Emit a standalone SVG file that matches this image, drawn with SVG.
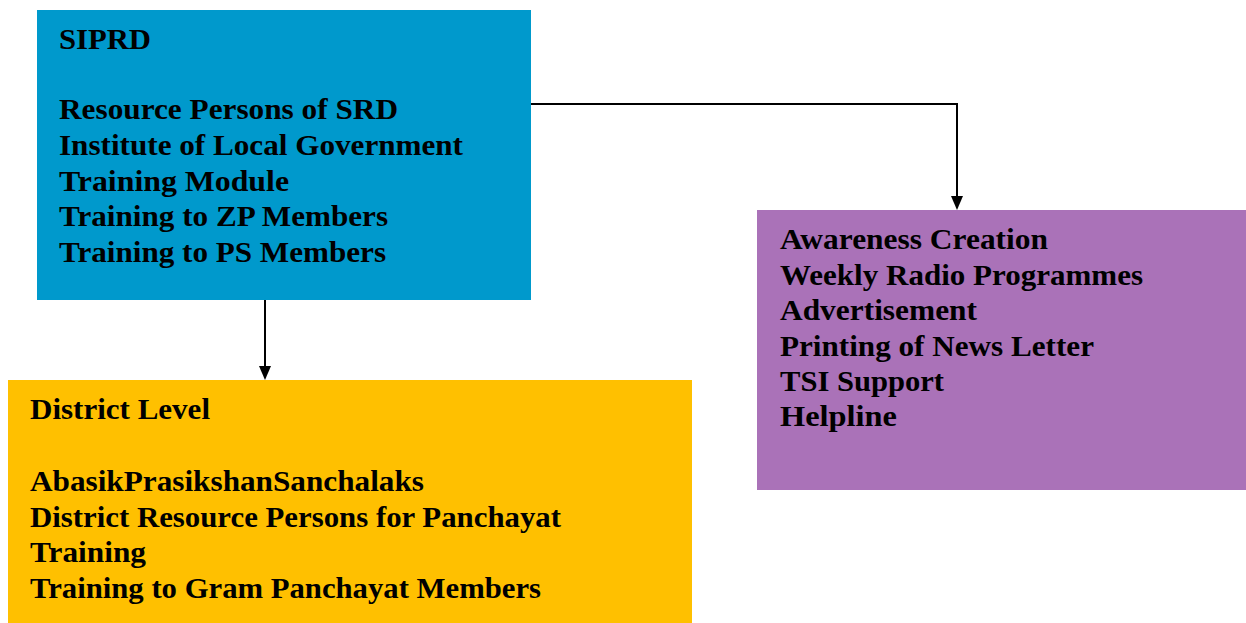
<svg xmlns="http://www.w3.org/2000/svg" width="1246" height="623" viewBox="0 0 1246 623">
<style>
text{font-family:"Liberation Serif","Times New Roman",serif;font-weight:bold;font-size:29px;fill:#000}
.conn{fill:none;stroke:#000;stroke-width:2}
</style>
<rect width="1246" height="623" fill="#fff"/>
<g id="siprd">
<rect x="37" y="10" width="494" height="290" fill="#0099CC"/>
<text x="59" y="49" textLength="92" lengthAdjust="spacingAndGlyphs">SIPRD</text>
<text x="59" y="119" textLength="339" lengthAdjust="spacingAndGlyphs">Resource Persons of SRD</text>
<text x="59" y="155" textLength="404" lengthAdjust="spacingAndGlyphs">Institute of Local Government</text>
<text x="59" y="191" textLength="230" lengthAdjust="spacingAndGlyphs">Training Module</text>
<text x="59" y="226" textLength="329" lengthAdjust="spacingAndGlyphs">Training to ZP Members</text>
<text x="59" y="262" textLength="327" lengthAdjust="spacingAndGlyphs">Training to PS Members</text>
</g>
<g id="district">
<rect x="8" y="380" width="684" height="243" fill="#FFC000"/>
<text x="30" y="419" textLength="180" lengthAdjust="spacingAndGlyphs">District Level</text>
<text x="30" y="491" textLength="394" lengthAdjust="spacingAndGlyphs">AbasikPrasikshanSanchalaks</text>
<text x="30" y="527" textLength="531" lengthAdjust="spacingAndGlyphs">District Resource Persons for Panchayat</text>
<text x="30" y="562" textLength="116" lengthAdjust="spacingAndGlyphs">Training</text>
<text x="30" y="598" textLength="511" lengthAdjust="spacingAndGlyphs">Training to Gram Panchayat Members</text>
</g>
<g id="awareness">
<rect x="757" y="210" width="489" height="280" fill="#AA72B8"/>
<text x="780" y="249" textLength="268" lengthAdjust="spacingAndGlyphs">Awareness Creation</text>
<text x="780" y="285" textLength="363" lengthAdjust="spacingAndGlyphs">Weekly Radio Programmes</text>
<text x="780" y="320" textLength="197" lengthAdjust="spacingAndGlyphs">Advertisement</text>
<text x="780" y="356" textLength="314" lengthAdjust="spacingAndGlyphs">Printing of News Letter</text>
<text x="780" y="391" textLength="164" lengthAdjust="spacingAndGlyphs">TSI Support</text>
<text x="780" y="426" textLength="117" lengthAdjust="spacingAndGlyphs">Helpline</text>
</g>
<g id="connectors">
<path class="conn" d="M265,300 L265,366"/>
<path d="M259,366 L271,366 L265,380 Z" fill="#000"/>
<path class="conn" d="M531,104 L957,104 L957,196"/>
<path d="M951,196 L963,196 L957,210 Z" fill="#000"/>
</g>
</svg>
